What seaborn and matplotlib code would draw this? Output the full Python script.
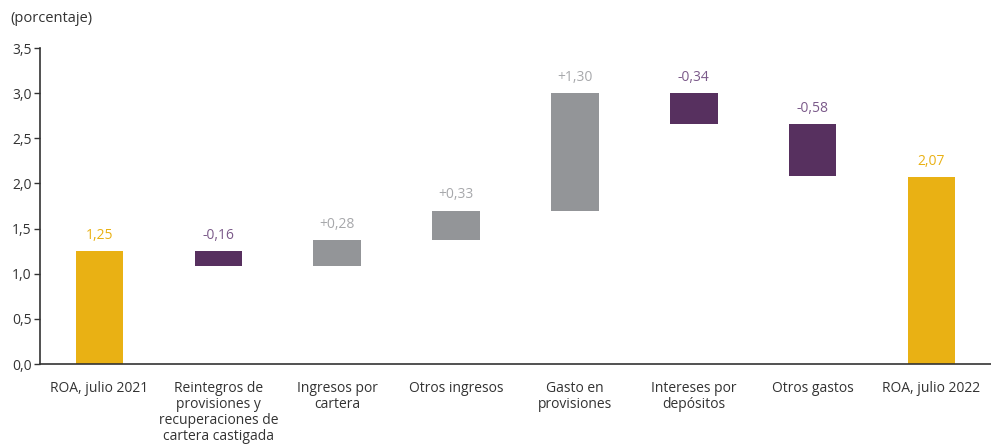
import numpy as np
import pandas as pd
import matplotlib.pyplot as plt
import seaborn as sns

# Waterfall data (percentage points)
categories = [
    "ROA, julio 2021",
    "Reintegros de\nprovisiones y\nrecuperaciones de\ncartera castigada",
    "Ingresos por\ncartera",
    "Otros ingresos",
    "Gasto en\nprovisiones",
    "Intereses por\ndepósitos",
    "Otros gastos",
    "ROA, julio 2022",
]
changes = [1.25, -0.16, 0.28, 0.33, 1.30, -0.34, -0.58, 2.07]
labels = ["1,25", "-0,16", "+0,28", "+0,33", "+1,30", "-0,34", "-0,58", "2,07"]
kinds = ["total", "neg", "pos", "pos", "pos", "neg", "neg", "total"]

bar_colors = {"total": "#E9B114", "pos": "#939598", "neg": "#57305F"}
text_colors = {"total": "#E9B114", "pos": "#A7A8AB", "neg": "#7B5A8A"}

# running level -> bottoms / heights
bottoms, heights, tops = [], [], []
level = 0.0
for c, k in zip(changes, kinds):
    if k == "total":
        bottoms.append(0.0)
        heights.append(c)
        level = c
    else:
        start = level
        level = level + c
        bottoms.append(min(start, level))
        heights.append(abs(c))
    tops.append(bottoms[-1] + heights[-1])

df = pd.DataFrame({"cat": categories, "height": heights, "bottom": bottoms, "kind": kinds})

sns.set_style("white")
plt.rcParams["font.family"] = ["Open Sans", "DejaVu Sans"]

fig = plt.figure(figsize=(9.91, 4.44), dpi=100)
ax = fig.add_axes([40 / 991, 80 / 444, 951 / 991, 316 / 444])

sns.barplot(data=df, x="cat", y="height", color="#939598",
            width=0.4, bottom=df["bottom"].values, saturation=1, ax=ax)
for patch, k in zip(ax.patches, kinds):
    patch.set_facecolor(bar_colors[k])
    patch.set_edgecolor("none")

for i, (t, lab, k) in enumerate(zip(tops, labels, kinds)):
    ax.text(i, t + 0.09, lab, ha="center", va="bottom", fontsize=10,
            color=text_colors[k])

ax.set_xlim(-0.5, 7.5)
ax.set_ylim(0, 3.5)
ax.set_yticks(np.arange(0, 3.51, 0.5))
ax.set_yticklabels([f"{v:.1f}".replace(".", ",") for v in np.arange(0, 3.51, 0.5)],
                   fontsize=10, color="#333333")
ax.set_xticks(range(len(categories)))
ax.set_xticklabels(categories, fontsize=10, color="#333333", linespacing=1.1)
ax.set_xticks(np.arange(0.5, 7.0, 1.0), minor=True)
ax.tick_params(axis="x", which="major", length=0, pad=12)
ax.tick_params(axis="x", which="minor", direction="in", length=3, width=1, color="#333333")
ax.tick_params(axis="y", direction="out", length=4, width=1, color="#333333", pad=2, left=True)
ax.set_xlabel("")
ax.set_ylabel("")

for s in ["top", "right"]:
    ax.spines[s].set_visible(False)
for s in ["left", "bottom"]:
    ax.spines[s].set_color("#333333")
    ax.spines[s].set_linewidth(1.2)

fig.text(10 / 991, 1 - 18 / 444, "(porcentaje)", fontsize=10.5, color="#333333",
         va="center", ha="left")

fig.savefig("out.png", dpi=100)
